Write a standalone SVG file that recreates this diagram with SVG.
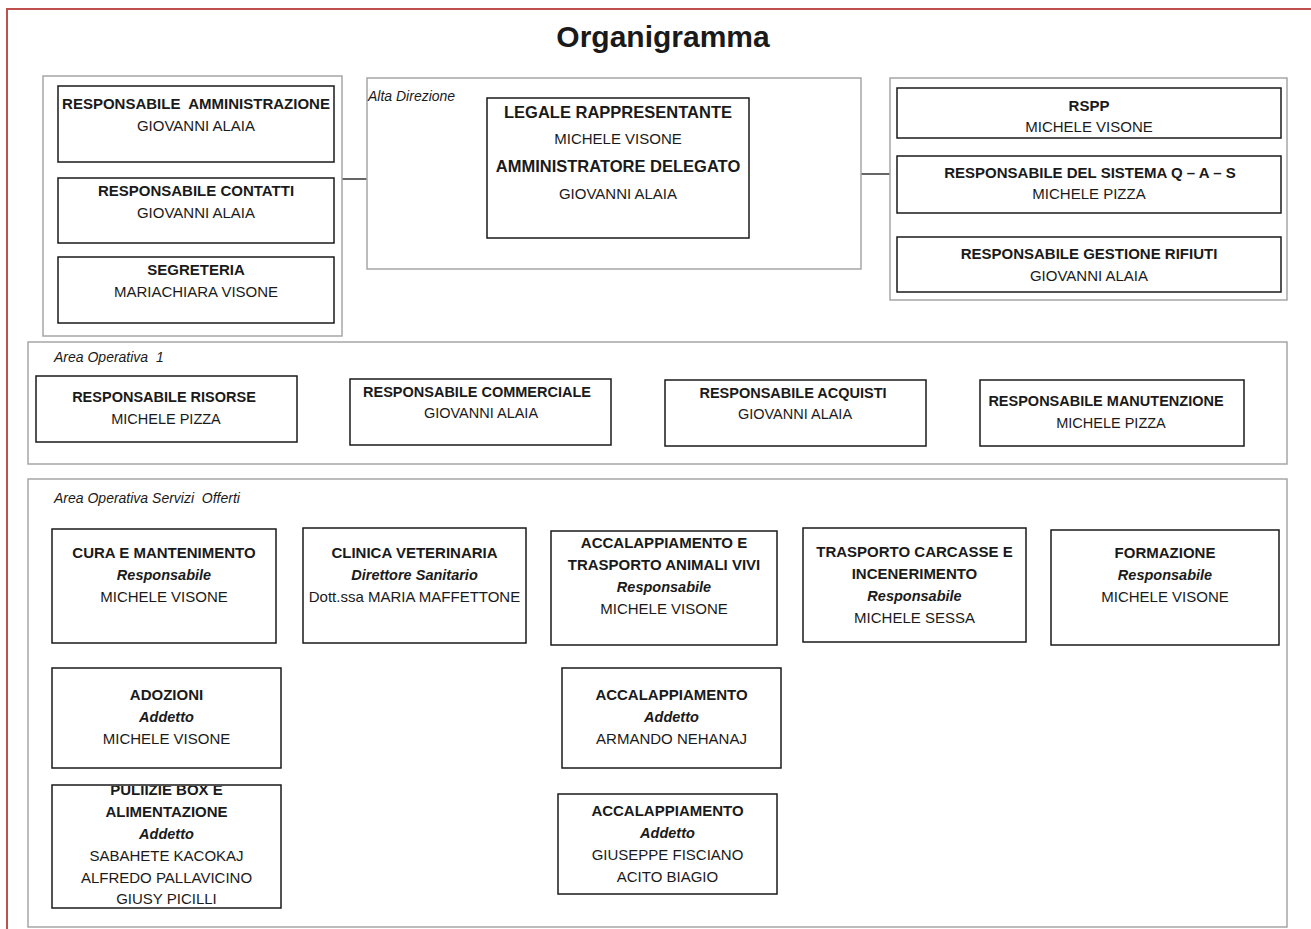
<svg xmlns="http://www.w3.org/2000/svg" width="1311" height="929" viewBox="0 0 1311 929">
<style>
.bg{fill:#ffffff}
.frame{fill:none;stroke:#c0504d;stroke-width:2}
.grp{fill:none;stroke:#a6a6a6;stroke-width:1.5}
.box{fill:#ffffff;stroke:#1a1a1a;stroke-width:1.5}
.conn{stroke:#333333;stroke-width:1.5;fill:none}
text{font-family:"Liberation Sans",Arial,sans-serif;fill:#1a1a1a;text-anchor:middle}
.title{font-size:30px;font-weight:bold}
.b{font-size:15px;font-weight:bold}
.r{font-size:15px}
.bL{font-size:16.5px;font-weight:bold}
.b2{font-size:14.5px;font-weight:bold}
.r2{font-size:14.5px}
.bi{font-size:14.5px;font-weight:bold;font-style:italic}
.lbl{font-size:14px;font-style:italic;text-anchor:start;white-space:pre}
.pre{white-space:pre}
</style>
<defs>
<clipPath id="clipPul"><rect x="52" y="786" width="229" height="122"/></clipPath>
</defs>
<rect class="bg" x="0" y="0" width="1311" height="929"/>
<path class="frame" d="M7,929 V9 H1311"/>
<text class="title" x="663" y="47">Organigramma</text>

<g id="connectors">
<line class="conn" x1="342" y1="179" x2="367" y2="179"/>
<line class="conn" x1="861" y1="174" x2="890" y2="174"/>
</g>

<g id="group-left">
<rect class="grp" x="43" y="76" width="299" height="260"/>
</g>
<g id="resp-amministrazione">
<rect class="box" x="58" y="86" width="276" height="76"/>
<text class="b pre" x="196" y="109" xml:space="preserve">RESPONSABILE  AMMINISTRAZIONE</text>
<text class="r" x="196" y="131">GIOVANNI ALAIA</text>
</g>
<g id="resp-contatti">
<rect class="box" x="58" y="178" width="276" height="65"/>
<text class="b" x="196" y="196">RESPONSABILE CONTATTI</text>
<text class="r" x="196" y="218">GIOVANNI ALAIA</text>
</g>
<g id="segreteria">
<rect class="box" x="58" y="257" width="276" height="66"/>
<text class="b" x="196" y="275">SEGRETERIA</text>
<text class="r" x="196" y="297">MARIACHIARA VISONE</text>
</g>

<g id="alta-direzione">
<rect class="grp" x="367" y="78" width="494" height="191"/>
<text class="lbl" x="368" y="101">Alta Direzione</text>
</g>
<g id="legale-rappresentante">
<rect class="box" x="487" y="98" width="262" height="140"/>
<text class="bL" x="618" y="118">LEGALE RAPPRESENTANTE</text>
<text class="r" x="618" y="144">MICHELE VISONE</text>
<text class="bL" x="618" y="172">AMMINISTRATORE DELEGATO</text>
<text class="r" x="618" y="199">GIOVANNI ALAIA</text>
</g>

<g id="group-right">
<rect class="grp" x="890" y="78" width="397" height="222"/>
</g>
<g id="rspp">
<rect class="box" x="897" y="88" width="384" height="50"/>
<text class="b" x="1089" y="111">RSPP</text>
<text class="r" x="1089" y="132">MICHELE VISONE</text>
</g>
<g id="resp-qas">
<rect class="box" x="897" y="156" width="384" height="57"/>
<text class="b" x="1090" y="178">RESPONSABILE DEL SISTEMA Q – A – S</text>
<text class="r" x="1089" y="199">MICHELE PIZZA</text>
</g>
<g id="resp-rifiuti">
<rect class="box" x="897" y="237" width="384" height="55"/>
<text class="b" x="1089" y="259">RESPONSABILE GESTIONE RIFIUTI</text>
<text class="r" x="1089" y="281">GIOVANNI ALAIA</text>
</g>

<g id="area-operativa-1">
<rect class="grp" x="28" y="342" width="1259" height="122"/>
<text class="lbl" x="54" y="362" xml:space="preserve">Area Operativa  1</text>
</g>
<g id="resp-risorse">
<rect class="box" x="36" y="376" width="261" height="66"/>
<text class="b2" x="164" y="402">RESPONSABILE RISORSE</text>
<text class="r2" x="166" y="424">MICHELE PIZZA</text>
</g>
<g id="resp-commerciale">
<rect class="box" x="350" y="379" width="261" height="66"/>
<text class="b2" x="477" y="397">RESPONSABILE COMMERCIALE</text>
<text class="r2" x="481" y="418">GIOVANNI ALAIA</text>
</g>
<g id="resp-acquisti">
<rect class="box" x="665" y="380" width="261" height="66"/>
<text class="b2" x="793" y="398">RESPONSABILE ACQUISTI</text>
<text class="r2" x="795" y="419">GIOVANNI ALAIA</text>
</g>
<g id="resp-manutenzione">
<rect class="box" x="980" y="380" width="264" height="66"/>
<text class="b2" x="1106" y="406">RESPONSABILE MANUTENZIONE</text>
<text class="r2" x="1111" y="428">MICHELE PIZZA</text>
</g>

<g id="area-servizi">
<rect class="grp" x="28" y="479" width="1259" height="448"/>
<text class="lbl" x="54" y="503" xml:space="preserve">Area Operativa Servizi  Offerti</text>
</g>
<g id="cura-mantenimento">
<rect class="box" x="52" y="529" width="224" height="114"/>
<text class="b" x="164" y="558">CURA E MANTENIMENTO</text>
<text class="bi" x="164" y="580">Responsabile</text>
<text class="r" x="164" y="602">MICHELE VISONE</text>
</g>
<g id="clinica-veterinaria">
<rect class="box" x="303" y="528" width="223" height="115"/>
<text class="b" x="414.5" y="558">CLINICA VETERINARIA</text>
<text class="bi" x="414.5" y="580">Direttore Sanitario</text>
<text class="r" x="414.5" y="602">Dott.ssa MARIA MAFFETTONE</text>
</g>
<g id="accalappiamento-trasporto">
<rect class="box" x="551" y="531" width="226" height="114"/>
<text class="b" x="664" y="548">ACCALAPPIAMENTO E</text>
<text class="b" x="664" y="570">TRASPORTO ANIMALI VIVI</text>
<text class="bi" x="664" y="592">Responsabile</text>
<text class="r" x="664" y="614">MICHELE VISONE</text>
</g>
<g id="trasporto-carcasse">
<rect class="box" x="803" y="528" width="223" height="114"/>
<text class="b" x="914.5" y="557">TRASPORTO CARCASSE E</text>
<text class="b" x="914.5" y="579">INCENERIMENTO</text>
<text class="bi" x="914.5" y="601">Responsabile</text>
<text class="r" x="914.5" y="623">MICHELE SESSA</text>
</g>
<g id="formazione">
<rect class="box" x="1051" y="530" width="228" height="115"/>
<text class="b" x="1165" y="558">FORMAZIONE</text>
<text class="bi" x="1165" y="580">Responsabile</text>
<text class="r" x="1165" y="602">MICHELE VISONE</text>
</g>
<g id="adozioni">
<rect class="box" x="52" y="668" width="229" height="100"/>
<text class="b" x="166.5" y="700">ADOZIONI</text>
<text class="bi" x="166.5" y="722">Addetto</text>
<text class="r" x="166.5" y="744">MICHELE VISONE</text>
</g>
<g id="accalappiamento-1">
<rect class="box" x="562" y="668" width="219" height="100"/>
<text class="b" x="671.5" y="700">ACCALAPPIAMENTO</text>
<text class="bi" x="671.5" y="722">Addetto</text>
<text class="r" x="671.5" y="744">ARMANDO NEHANAJ</text>
</g>
<g id="pulizie-box">
<rect class="box" x="52" y="785" width="229" height="123"/>
<g clip-path="url(#clipPul)">
<text class="b" x="166.5" y="794.5">PULIIZIE BOX E</text>
<text class="b" x="166.5" y="817">ALIMENTAZIONE</text>
<text class="bi" x="166.5" y="839">Addetto</text>
<text class="r" x="166.5" y="861">SABAHETE KACOKAJ</text>
<text class="r" x="166.5" y="883">ALFREDO PALLAVICINO</text>
<text class="r" x="166.5" y="904">GIUSY PICILLI</text>
</g>
</g>
<g id="accalappiamento-2">
<rect class="box" x="558" y="794" width="219" height="100"/>
<text class="b" x="667.5" y="816">ACCALAPPIAMENTO</text>
<text class="bi" x="667.5" y="838">Addetto</text>
<text class="r" x="667.5" y="860">GIUSEPPE FISCIANO</text>
<text class="r" x="667.5" y="882">ACITO BIAGIO</text>
</g>
</svg>
